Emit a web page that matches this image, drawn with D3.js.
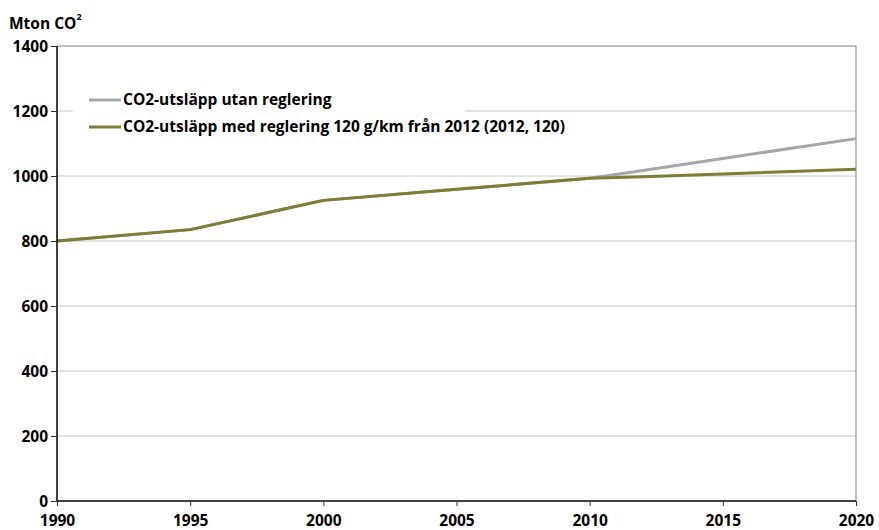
<!DOCTYPE html>
<html>
<head>
<meta charset="utf-8">
<script src="https://cdn.jsdelivr.net/npm/d3@7"></script>
<style>
  body { margin: 0; background: #fff; }
  text { font-family: "Open Sans", "Noto Sans", sans-serif; font-weight: bold; }
</style>
</head>
<body>
<svg width="879" height="530"></svg>
<script>
// data
const years = [1990, 1995, 2000, 2005, 2010, 2012, 2015, 2020];
const utanReglering = [800, 835, 925, 959, 993, 1017, 1054, 1115];
const medReglering = [800, 835, 925, 959, 993, 998, 1006, 1021];
const yTicks = [0, 200, 400, 600, 800, 1000, 1200, 1400];
const xTicks = [1990, 1995, 2000, 2005, 2010, 2015, 2020];
const seriesNames = ["CO2-utsläpp utan reglering", "CO2-utsläpp med reglering 120 g/km från 2012 (2012, 120)"];
const seriesColors = ["#a6a6aa", "#807c38"];

const svg = d3.select("svg");
const margin = {left: 57, right: 23, top: 46, bottom: 29};
const W = 879, H = 530;
const fs = 15.5;

const x = d3.scaleLinear().domain([1990, 2020]).range([margin.left, W - margin.right]);
const y = d3.scaleLinear().domain([0, 1400]).range([H - margin.bottom, margin.top]);

// gridlines
svg.append("g")
    .selectAll("line")
    .data(yTicks.slice(1, -1))
    .enter()
    .append("line")
    .attr("x1", x(1990))
    .attr("x2", x(2020))
    .attr("y1", d => y(d))
    .attr("y2", d => y(d))
    .attr("stroke", "#c8c8c8")
    .attr("stroke-width", 1);

// top and right border
svg.append("path")
    .attr("d", `M${x(1990)},${y(1400)}H${x(2020)}V${y(0)}`)
    .attr("fill", "none")
    .attr("stroke", "#808080")
    .attr("stroke-width", 1);

// legend background hides part of the 1200 gridline
svg.append("rect")
    .attr("x", 73)
    .attr("y", 86)
    .attr("width", 392)
    .attr("height", 30)
    .attr("fill", "#fff");

// lines
const line = d3.line().x((d, i) => x(years[i])).y(d => y(d));
[utanReglering, medReglering].forEach((s, i) => {
    svg.append("path")
        .datum(s)
        .attr("d", line)
        .attr("fill", "none")
        .attr("stroke", seriesColors[i])
        .attr("stroke-width", 3)
        .attr("stroke-linejoin", "round");
});

// axes
const yAxis = svg.append("g")
    .attr("transform", `translate(${x(1990)},0)`)
    .call(d3.axisLeft(y).tickValues(yTicks).tickSize(6).tickPadding(3).tickFormat(d3.format("d")));
const xAxis = svg.append("g")
    .attr("transform", `translate(0,${y(0)})`)
    .call(d3.axisBottom(x).tickValues(xTicks).tickSize(5).tickPadding(9).tickFormat(d3.format("d")));

[yAxis, xAxis].forEach(a => {
    a.select(".domain").attr("stroke", "#000").attr("stroke-width", 1.5);
    a.selectAll(".tick line").attr("stroke", "#333");
    a.selectAll("text").attr("font-size", fs).attr("fill", "#000")
        .style("font-family", '"Open Sans", "Noto Sans", sans-serif').style("font-weight", "bold");
});
yAxis.select(".domain").attr("d", `M0,${y(1400)}V${y(0)}`);
xAxis.select(".domain").attr("d", `M${x(1990)},0H${x(2020)}`);
yAxis.selectAll(".tick text").attr("dy", "0.35em");
xAxis.selectAll(".tick text").attr("dy", "0.71em");

// title
const title = svg.append("text")
    .attr("x", 9)
    .attr("y", 29)
    .attr("font-size", fs)
    .attr("fill", "#000");
title.append("tspan").text("Mton CO");
title.append("tspan").text("2").attr("font-size", 9).attr("dy", -9);

// legend
const legend = svg.append("g")
    .selectAll("g")
    .data(seriesNames)
    .enter()
    .append("g")
    .attr("transform", (d, i) => `translate(89,${100 + i * 27})`);
legend.append("line")
    .attr("x1", 0)
    .attr("x2", 32)
    .attr("stroke", (d, i) => seriesColors[i])
    .attr("stroke-width", 3);
legend.append("text")
    .attr("x", 34)
    .attr("dy", "0.35em")
    .attr("font-size", fs)
    .attr("fill", "#000")
    .text(d => d);
</script>
</body>
</html>
